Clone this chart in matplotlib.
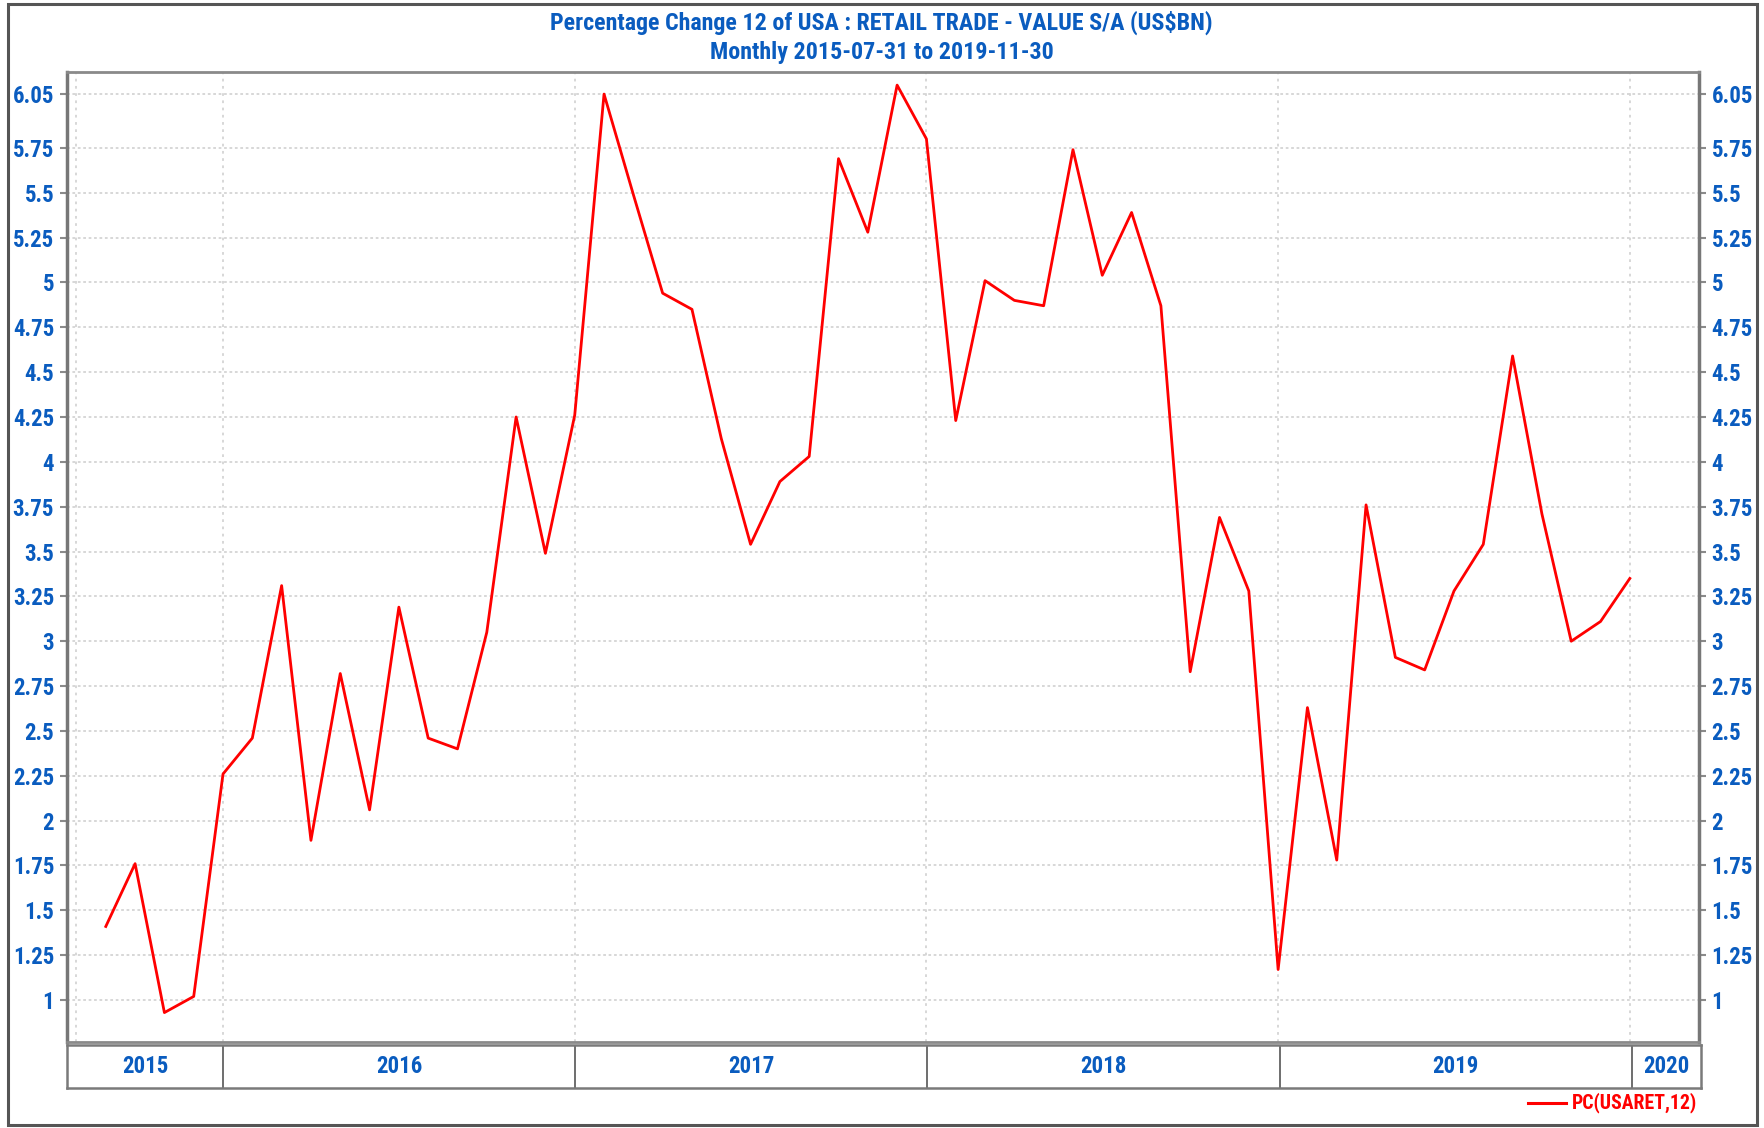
import matplotlib
matplotlib.use("Agg")
import matplotlib.pyplot as plt
import numpy as np
import pandas as pd
from matplotlib import font_manager

# ---------------------------------------------------------------------------
# Data
# ---------------------------------------------------------------------------
START, END = "2015-07-31", "2019-11-30"
PC_USARET_12 = [
    1.41, 1.76, 0.93, 1.02, 2.26, 2.46, 3.31, 1.89, 2.82, 2.06, 3.19, 2.46,
    2.40, 3.05, 4.25, 3.49, 4.26, 6.05, 5.49, 4.94, 4.85, 4.13, 3.54, 3.89,
    4.03, 5.69, 5.28, 6.10, 5.80, 4.23, 5.01, 4.90, 4.87, 5.74, 5.04, 5.39,
    4.87, 2.83, 3.69, 3.28, 1.17, 2.63, 1.78, 3.76, 2.91, 2.84, 3.28, 3.54,
    4.59, 3.71, 3.00, 3.11, 3.35,
]
Y_TICKS = [1, 1.25, 1.5, 1.75, 2, 2.25, 2.5, 2.75, 3, 3.25, 3.5, 3.75,
           4, 4.25, 4.5, 4.75, 5, 5.25, 5.5, 5.75, 6.05]
Y_TICK_LABELS = ["1", "1.25", "1.5", "1.75", "2", "2.25", "2.5", "2.75", "3",
                 "3.25", "3.5", "3.75", "4", "4.25", "4.5", "4.75", "5",
                 "5.25", "5.5", "5.75", "6.05"]
YEARS = ["2015", "2016", "2017", "2018", "2019", "2020"]
TITLE = "Percentage Change 12 of USA : RETAIL TRADE - VALUE S/A (US$BN)"
SUBTITLE = f"Monthly {START} to {END}"
LEGEND = "PC(USARET,12)"

# ---------------------------------------------------------------------------
# Style
# ---------------------------------------------------------------------------
names = {f.name for f in font_manager.fontManager.ttflist}
FONT = next((n for n in ["Liberation Sans Narrow", "Arial Narrow", "Roboto Condensed",
                         "Archivo Narrow", "Liberation Sans"] if n in names), "DejaVu Sans")
plt.rcParams["font.family"] = [FONT, "DejaVu Sans"]
plt.rcParams["font.weight"] = "bold"

BLUE = "#0a5cbf"
RED = "#ff0000"
FRAME = "#8a8a8a"
GRID = "#d4d4d4"
FS = 16.5

W, H = 1765, 1128

def px_axes(fig, left, top, right, bottom):
    return fig.add_axes([left / W, 1 - bottom / H, (right - left) / W, (bottom - top) / H])

dates = pd.date_range(START, END, freq="ME")
x = np.arange(len(dates))
# year bands split at the November points, as in the source chart
edges = list(x[dates.month == 11])
XLIM = (-1.337, 54.36)

fig = plt.figure(figsize=(W / 100, H / 100), dpi=100)

# outer frame
fig.patches.append(plt.Rectangle((8 / W, 3 / H), (1757 - 8) / W, (1124 - 3) / H,
                                 transform=fig.transFigure, fill=False,
                                 edgecolor="#555555", linewidth=2.2))

fig.text(0.4994, 1 - 23 / H, TITLE, ha="center", va="center", color=BLUE, fontsize=17.3)
fig.text(0.4994, 1 - 52 / H, SUBTITLE, ha="center", va="center", color=BLUE, fontsize=17.3)

# main plot
ax = px_axes(fig, 66.6, 72, 1699, 1042)
ax.plot(x, PC_USARET_12, color=RED, linewidth=2.0, zorder=3)
ax.set_xlim(*XLIM)
ax.set_ylim(0.766, 6.173)
ax.set_yticks(Y_TICKS)
ax.set_yticklabels(Y_TICK_LABELS)
ax.set_xticks([])
ax.tick_params(axis="y", which="both", left=True, right=True, labelleft=True,
               labelright=True, colors=FRAME, labelcolor=BLUE, labelsize=FS,
               length=5, width=1.5, pad=4)
for lbl in ax.get_yticklabels(which="both"):
    lbl.set_fontweight("bold")
ax.grid(axis="y", color=GRID, linestyle=(0, (1.5, 1.5)), linewidth=1.3, zorder=0)
for xv in [-1] + edges:
    ax.axvline(xv, color=GRID, linestyle=(0, (1.5, 2.5)), linewidth=1.3, zorder=0)
for side in ["top", "bottom"]:
    ax.spines[side].set_color(FRAME)
    ax.spines[side].set_linewidth(2)
for side in ["left", "right"]:
    ax.spines[side].set_color("#777777")
    ax.spines[side].set_linewidth(2.5)

# year band
band = px_axes(fig, 66.6, 1045, 1701, 1088)
band.set_xlim(*XLIM)
band.set_ylim(0, 1)
band.set_xticks([])
band.set_yticks([])
for s in band.spines.values():
    s.set_color("#7a7a7a")
    s.set_linewidth(1.8)
bounds = [XLIM[0]] + edges + [XLIM[1]]
for xv in edges:
    band.axvline(xv, color="#555555", linewidth=1.2)
for yr, a, b in zip(YEARS, bounds[:-1], bounds[1:]):
    band.text((a + b) / 2, 0.5, yr, ha="center", va="center", color=BLUE, fontsize=FS)

# legend
fig.add_artist(plt.Line2D([1528 / W, 1566 / W], [1 - 1103 / H, 1 - 1103 / H],
                          transform=fig.transFigure, color=RED, linewidth=2.2))
fig.text(1572 / W, 1 - 1103 / H, LEGEND, ha="left", va="center", color=RED, fontsize=14.2)

fig.savefig("out.png", dpi=100)
